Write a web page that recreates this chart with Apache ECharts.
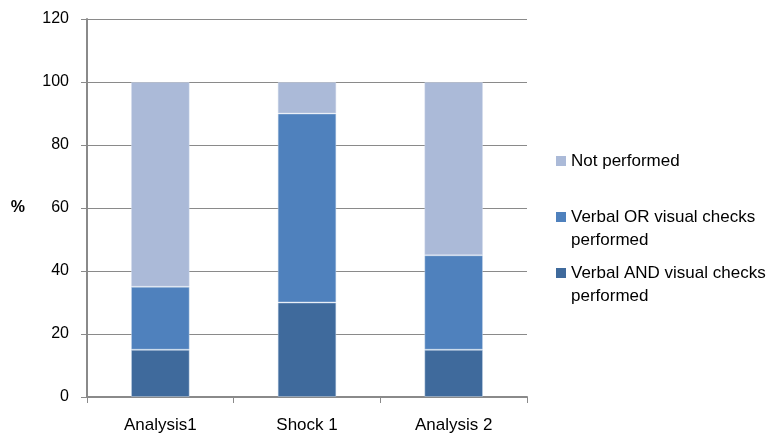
<!DOCTYPE html>
<html>
<head>
<meta charset="utf-8">
<script src="https://cdn.jsdelivr.net/npm/echarts@6/dist/echarts.min.js"></script>
<style>
  html, body { margin: 0; padding: 0; background: #fff; }
  #chart { width: 767px; height: 435px; }
</style>
</head>
<body>
<div id="chart"></div>
<script>
// Categories on the x axis
const categories = ['Analysis1', 'Shock 1', 'Analysis 2'];

// Stacked percentages per category
const bothChecks = [15, 30, 15];
const eitherCheck = [20, 60, 30];
const notPerformed = [65, 10, 55];

// Series names as shown in the legend
const nameBoth = 'Verbal AND visual checks performed';
const nameEither = 'Verbal OR visual checks performed';
const nameNot = 'Not performed';

const FONT = '"Liberation Sans", Arial, Helvetica, sans-serif';
const AXIS_GRAY = '#8a8a8a';

// Two-line legend entries: the square sits beside the first line
const twoLineIcon = 'path://M0,0h10v10h-10z M0,33';

const chart = echarts.init(document.getElementById('chart'), null, { renderer: 'canvas' });

function legendText(name) {
  return name.replace(' checks performed', ' checks\nperformed');
}

const baseLegend = {
  orient: 'vertical',
  left: 556,
  padding: 0,
  itemWidth: 10,
  selectedMode: false,
  itemStyle: { borderWidth: 0 },
  textStyle: { fontFamily: FONT, fontSize: 17, color: '#000', lineHeight: 23 },
  formatter: legendText
};

chart.setOption({
  animation: false,
  backgroundColor: '#ffffff',
  grid: { left: 87, right: 240, top: 19, bottom: 38, containLabel: false },
  legend: [
    Object.assign({}, baseLegend, {
      top: 149.5, itemHeight: 10,
      data: [{ name: nameNot, icon: 'rect' }]
    }),
    Object.assign({}, baseLegend, {
      top: 205.5, itemHeight: 33,
      data: [{ name: nameEither, icon: twoLineIcon }]
    }),
    Object.assign({}, baseLegend, {
      top: 261.5, itemHeight: 33,
      data: [{ name: nameBoth, icon: twoLineIcon }]
    })
  ],
  xAxis: {
    type: 'category',
    data: categories,
    axisLine: { lineStyle: { color: AXIS_GRAY, width: 2 } },
    axisTick: { show: true, length: 6, lineStyle: { color: AXIS_GRAY, width: 1 } },
    axisLabel: { fontFamily: FONT, fontSize: 17, color: '#000', margin: 20 }
  },
  yAxis: {
    type: 'value',
    min: 0,
    max: 120,
    interval: 20,
    name: '%',
    nameLocation: 'middle',
    nameRotate: 0,
    nameGap: 62,
    nameTextStyle: { fontFamily: FONT, fontSize: 16, fontWeight: 'bold', color: '#000', padding: [4, 0, 0, 0] },
    axisLine: { show: true, lineStyle: { color: AXIS_GRAY, width: 2 } },
    axisTick: { show: true, length: 6, lineStyle: { color: AXIS_GRAY, width: 1 } },
    axisLabel: { fontFamily: FONT, fontSize: 16, color: '#000', margin: 18 },
    splitLine: { show: true, lineStyle: { color: AXIS_GRAY, width: 1 } }
  },
  series: [
    {
      name: nameBoth, type: 'bar', stack: 'total', barWidth: '40%',
      data: bothChecks,
      itemStyle: { color: '#3f6a9c', borderColor: 'rgba(200,215,235,0.45)', borderWidth: 1 }
    },
    {
      name: nameEither, type: 'bar', stack: 'total', barWidth: '40%',
      data: eitherCheck,
      itemStyle: { color: '#4f81bd', borderColor: 'rgba(200,215,235,0.45)', borderWidth: 1 }
    },
    {
      name: nameNot, type: 'bar', stack: 'total', barWidth: '40%',
      data: notPerformed,
      itemStyle: { color: '#abbad8', borderColor: 'rgba(210,220,238,0.45)', borderWidth: 1 }
    }
  ]
});
</script>
</body>
</html>
